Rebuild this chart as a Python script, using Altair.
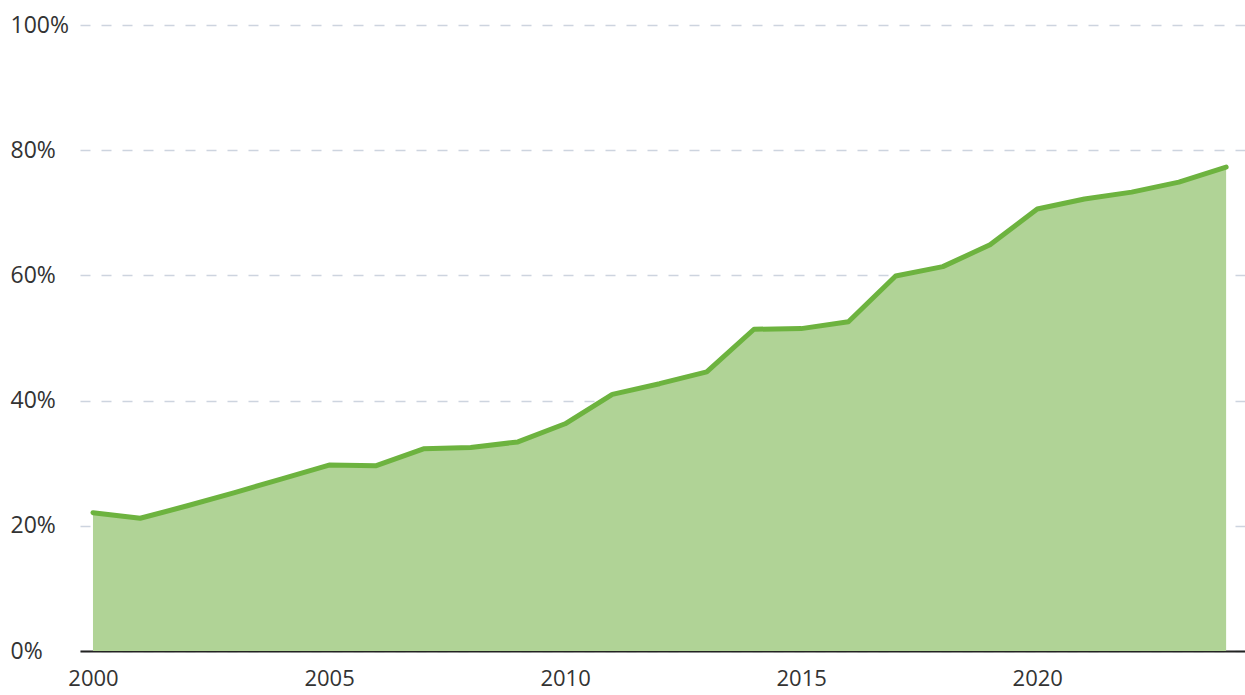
import altair as alt
import pandas as pd

years = list(range(2000, 2025))
share = [22.1, 21.2, 23.2, 25.3, 27.5, 29.7, 29.6, 32.3, 32.5, 33.4,
         36.3, 41.0, 42.7, 44.6, 51.4, 51.5, 52.6, 59.9, 61.4, 64.9,
         70.6, 72.2, 73.3, 74.9, 77.3]
x_ticks = [2000, 2005, 2010, 2015, 2020]
y_ticks = [0, 20, 40, 60, 80, 100]

df = pd.DataFrame({"year": years, "share": share})

FONT = "Open Sans"

x = alt.X("year:Q",
          scale=alt.Scale(domain=[1999.725, 2024.4], nice=False, zero=False),
          axis=alt.Axis(values=x_ticks, format="d", title=None, grid=False,
                        ticks=False, domain=True, domainColor="#222222",
                        domainWidth=2, labelFontSize=22, labelColor="#333333",
                        labelFont=FONT, labelPadding=17, labelOverlap=False,
                        labelFlush=False, labelBound=False))
y = alt.Y("share:Q",
          scale=alt.Scale(domain=[0, 100], nice=False),
          axis=alt.Axis(values=y_ticks, title=None, grid=True,
                        gridColor="#cdd4df", gridDash=[10, 11], gridWidth=1.5,
                        ticks=False, domain=False, labelAlign="left",
                        labelPadding=70, labelFontSize=23, labelColor="#333333",
                        labelFont=FONT, labelExpr="datum.value + '%'",
                        labelBaseline="middle"))

area = alt.Chart(df).mark_area(color="#b0d396", opacity=1).encode(x=x, y=y)
line = alt.Chart(df).mark_line(color="#6db33f", strokeWidth=5,
                               strokeCap="round", strokeJoin="round").encode(x=x, y=y)

chart = alt.layer(area, line).properties(
    width=1165, height=626,
    autosize=alt.AutoSizeParams(type="none"),
    padding={"left": 80, "top": 25, "right": 0, "bottom": 44},
    background="white",
).configure_view(stroke=None)

chart.save("out.html", embed_options={"renderer": "svg", "actions": False})
